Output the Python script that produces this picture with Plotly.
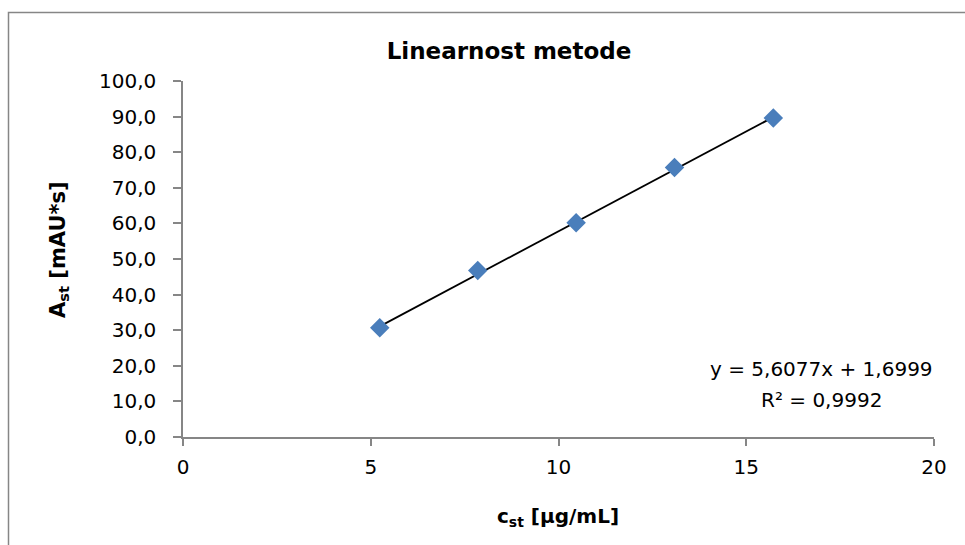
import plotly.graph_objects as go

# Data
conc = [5.24, 7.85, 10.47, 13.09, 15.72]        # c_st [µg/mL]
area = [30.7, 46.8, 60.2, 75.7, 89.6]           # A_st [mAU*s]
slope = 5.6077
intercept = 1.6999
r2 = 0.9992

x_ticks = [0, 5, 10, 15, 20]
y_ticks = [0, 10, 20, 30, 40, 50, 60, 70, 80, 90, 100]
y_tick_labels = [f"{v:.1f}".replace(".", ",") for v in y_ticks]

FONT = "DejaVu Sans"
AXIS_GRAY = "#868686"

x_fit = [min(conc), max(conc)]
y_fit = [slope * x + intercept for x in x_fit]

fig = go.Figure()
fig.add_trace(go.Scatter(
    x=x_fit, y=y_fit, mode="lines",
    line=dict(color="black", width=1.8), showlegend=False, hoverinfo="skip"))
fig.add_trace(go.Scatter(
    x=conc, y=area, mode="markers",
    marker=dict(symbol="diamond", size=15, color="#4A7EBB"),
    showlegend=False))

W, H = 965, 545
L, R, T, B = 183, 31, 81, 108
pw, ph = W - L - R, H - T - B

def px_x(p):
    return (p - L) / pw

def px_y(p):
    return (H - B - p) / ph

eq_text = f"y = {slope:.4f}x + {intercept:.4f}".replace(".", ",")
r2_text = f"R² = {r2:.4f}".replace(".", ",")

fig.update_layout(
    width=W, height=H,
    margin=dict(l=L, r=R, t=T, b=B),
    paper_bgcolor="white", plot_bgcolor="white",
    font=dict(family=FONT, size=20, color="black"),
    title=dict(text="<b>Linearnost metode</b>", x=509 / W, xanchor="center",
               y=1 - 51 / H, yanchor="middle", xref="container", yref="container",
               font=dict(family=FONT, size=23, color="black")),
    xaxis=dict(range=[0, 20], tickvals=x_ticks, ticktext=[str(v) for v in x_ticks],
               showgrid=False, zeroline=False, showline=True, linecolor=AXIS_GRAY,
               linewidth=1.5, ticks="outside", ticklen=7, tickcolor=AXIS_GRAY,
               tickwidth=1.5, tickfont=dict(size=20), ticklabelstandoff=4),
    yaxis=dict(range=[0, 100], tickvals=y_ticks, ticktext=y_tick_labels,
               showgrid=False, zeroline=False, showline=True, linecolor=AXIS_GRAY,
               linewidth=1.5, ticks="outside", ticklen=8, tickcolor=AXIS_GRAY,
               tickwidth=1.5, tickfont=dict(size=20), ticklabelstandoff=13),
    shapes=[dict(type="rect", xref="paper", yref="paper",
                 x0=px_x(8.5), x1=px_x(980), y0=px_y(12.5), y1=px_y(560),
                 line=dict(color=AXIS_GRAY, width=1.5), fillcolor="rgba(0,0,0,0)",
                 layer="below")],
    annotations=[
        dict(text=eq_text, x=px_x(821), y=px_y(369), xref="paper", yref="paper",
             showarrow=False, xanchor="center", yanchor="middle",
             font=dict(size=20)),
        dict(text=r2_text, x=px_x(821), y=px_y(400), xref="paper", yref="paper",
             showarrow=False, xanchor="center", yanchor="middle",
             font=dict(size=20)),
        dict(text="<b>c<sub>st</sub> [µg/mL]</b>", x=px_x(558), y=px_y(517),
             xref="paper", yref="paper", showarrow=False, xanchor="center",
             yanchor="middle", font=dict(size=20)),
        dict(text="<b>A<sub>st</sub> [mAU*s]</b>", x=px_x(59), y=px_y(250),
             xref="paper", yref="paper", showarrow=False, xanchor="center",
             yanchor="middle", textangle=-90, font=dict(size=21)),
    ],
)

fig.write_html("out.html", config={"displayModeBar": False},
               post_script="document.body.style.margin='0px';")
